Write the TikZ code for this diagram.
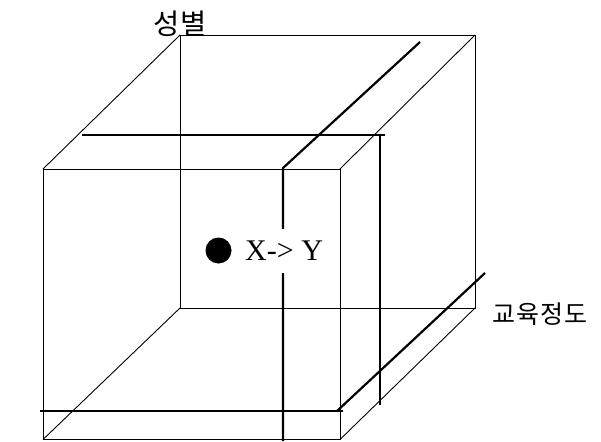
\documentclass[tikz,border=0pt]{standalone}
\usepackage{fontspec}
\setmainfont{Liberation Serif}
\newfontfamily\krfont{Noto Sans CJK KR}
\begin{document}
\begin{tikzpicture}[x=1pt,y=-1pt,
  thinline/.style={line width=0.9pt, line join=miter},
  thickline/.style={line width=2.2pt},
  krlabel/.style={font=\krfont\fontsize{28.5}{32}\selectfont, inner sep=0pt},
  krsmall/.style={font=\krfont\fontsize{25}{28}\selectfont, inner sep=0pt},
  eqlabel/.style={font=\fontsize{30}{33}\selectfont, fill=white, inner xsep=1pt, inner ysep=12pt}]
\useasboundingbox (0,0) rectangle (601,441);
% back face
\coordinate (BTL) at (180,35);
\coordinate (BTR) at (475,35);
\coordinate (BBR) at (475,308);
\coordinate (BBL) at (180,308);
% front face
\coordinate (FTL) at (43,169);
\coordinate (FTR) at (340,169);
\coordinate (FBR) at (340,439.5);
\coordinate (FBL) at (43,439.5);
\draw[thinline] (BTL) -- (BTR) -- (BBR) -- (BBL) -- cycle;
\draw[thinline] (FTL) -- (FTR) -- (FBR) -- (FBL) -- cycle;
\draw[thinline] (FTL) -- (BTL);
\draw[thinline] (FTR) -- (BTR);
\draw[thinline] (FBR) -- (BBR);
\draw[thinline] (FBL) -- (BBL);
% thick section lines
\coordinate (A1) at (82,135);
\coordinate (A2) at (385,135);
\coordinate (A3) at (380,135);
\coordinate (A4) at (380,405);
\draw[thickline] (A1) -- (A2);
\draw[thickline] (A3) -- (A4);
\coordinate (C1) at (420,42);
\coordinate (C2) at (283,168);
\coordinate (C3) at (283,441);
\draw[thickline] (C1) -- (C2) -- (C3);
\coordinate (D1) at (40,411);
\coordinate (D2) at (343,411);
\coordinate (D3) at (337,411);
\coordinate (D4) at (485,273);
\draw[thickline] (D1) -- (D2);
\draw[thickline] (D3) -- (D4);
% point and labels
\fill (218.5,250.5) circle (13);
\node[eqlabel, anchor=west] (xy) at (244,251) {X-> Y};
\node[krlabel] (sex) at (180,24) {성별};
\node[krsmall] (edu) at (540,314) {교\hspace{1pt}육\hspace{1pt}정\hspace{1pt}도};
\end{tikzpicture}
\end{document}
